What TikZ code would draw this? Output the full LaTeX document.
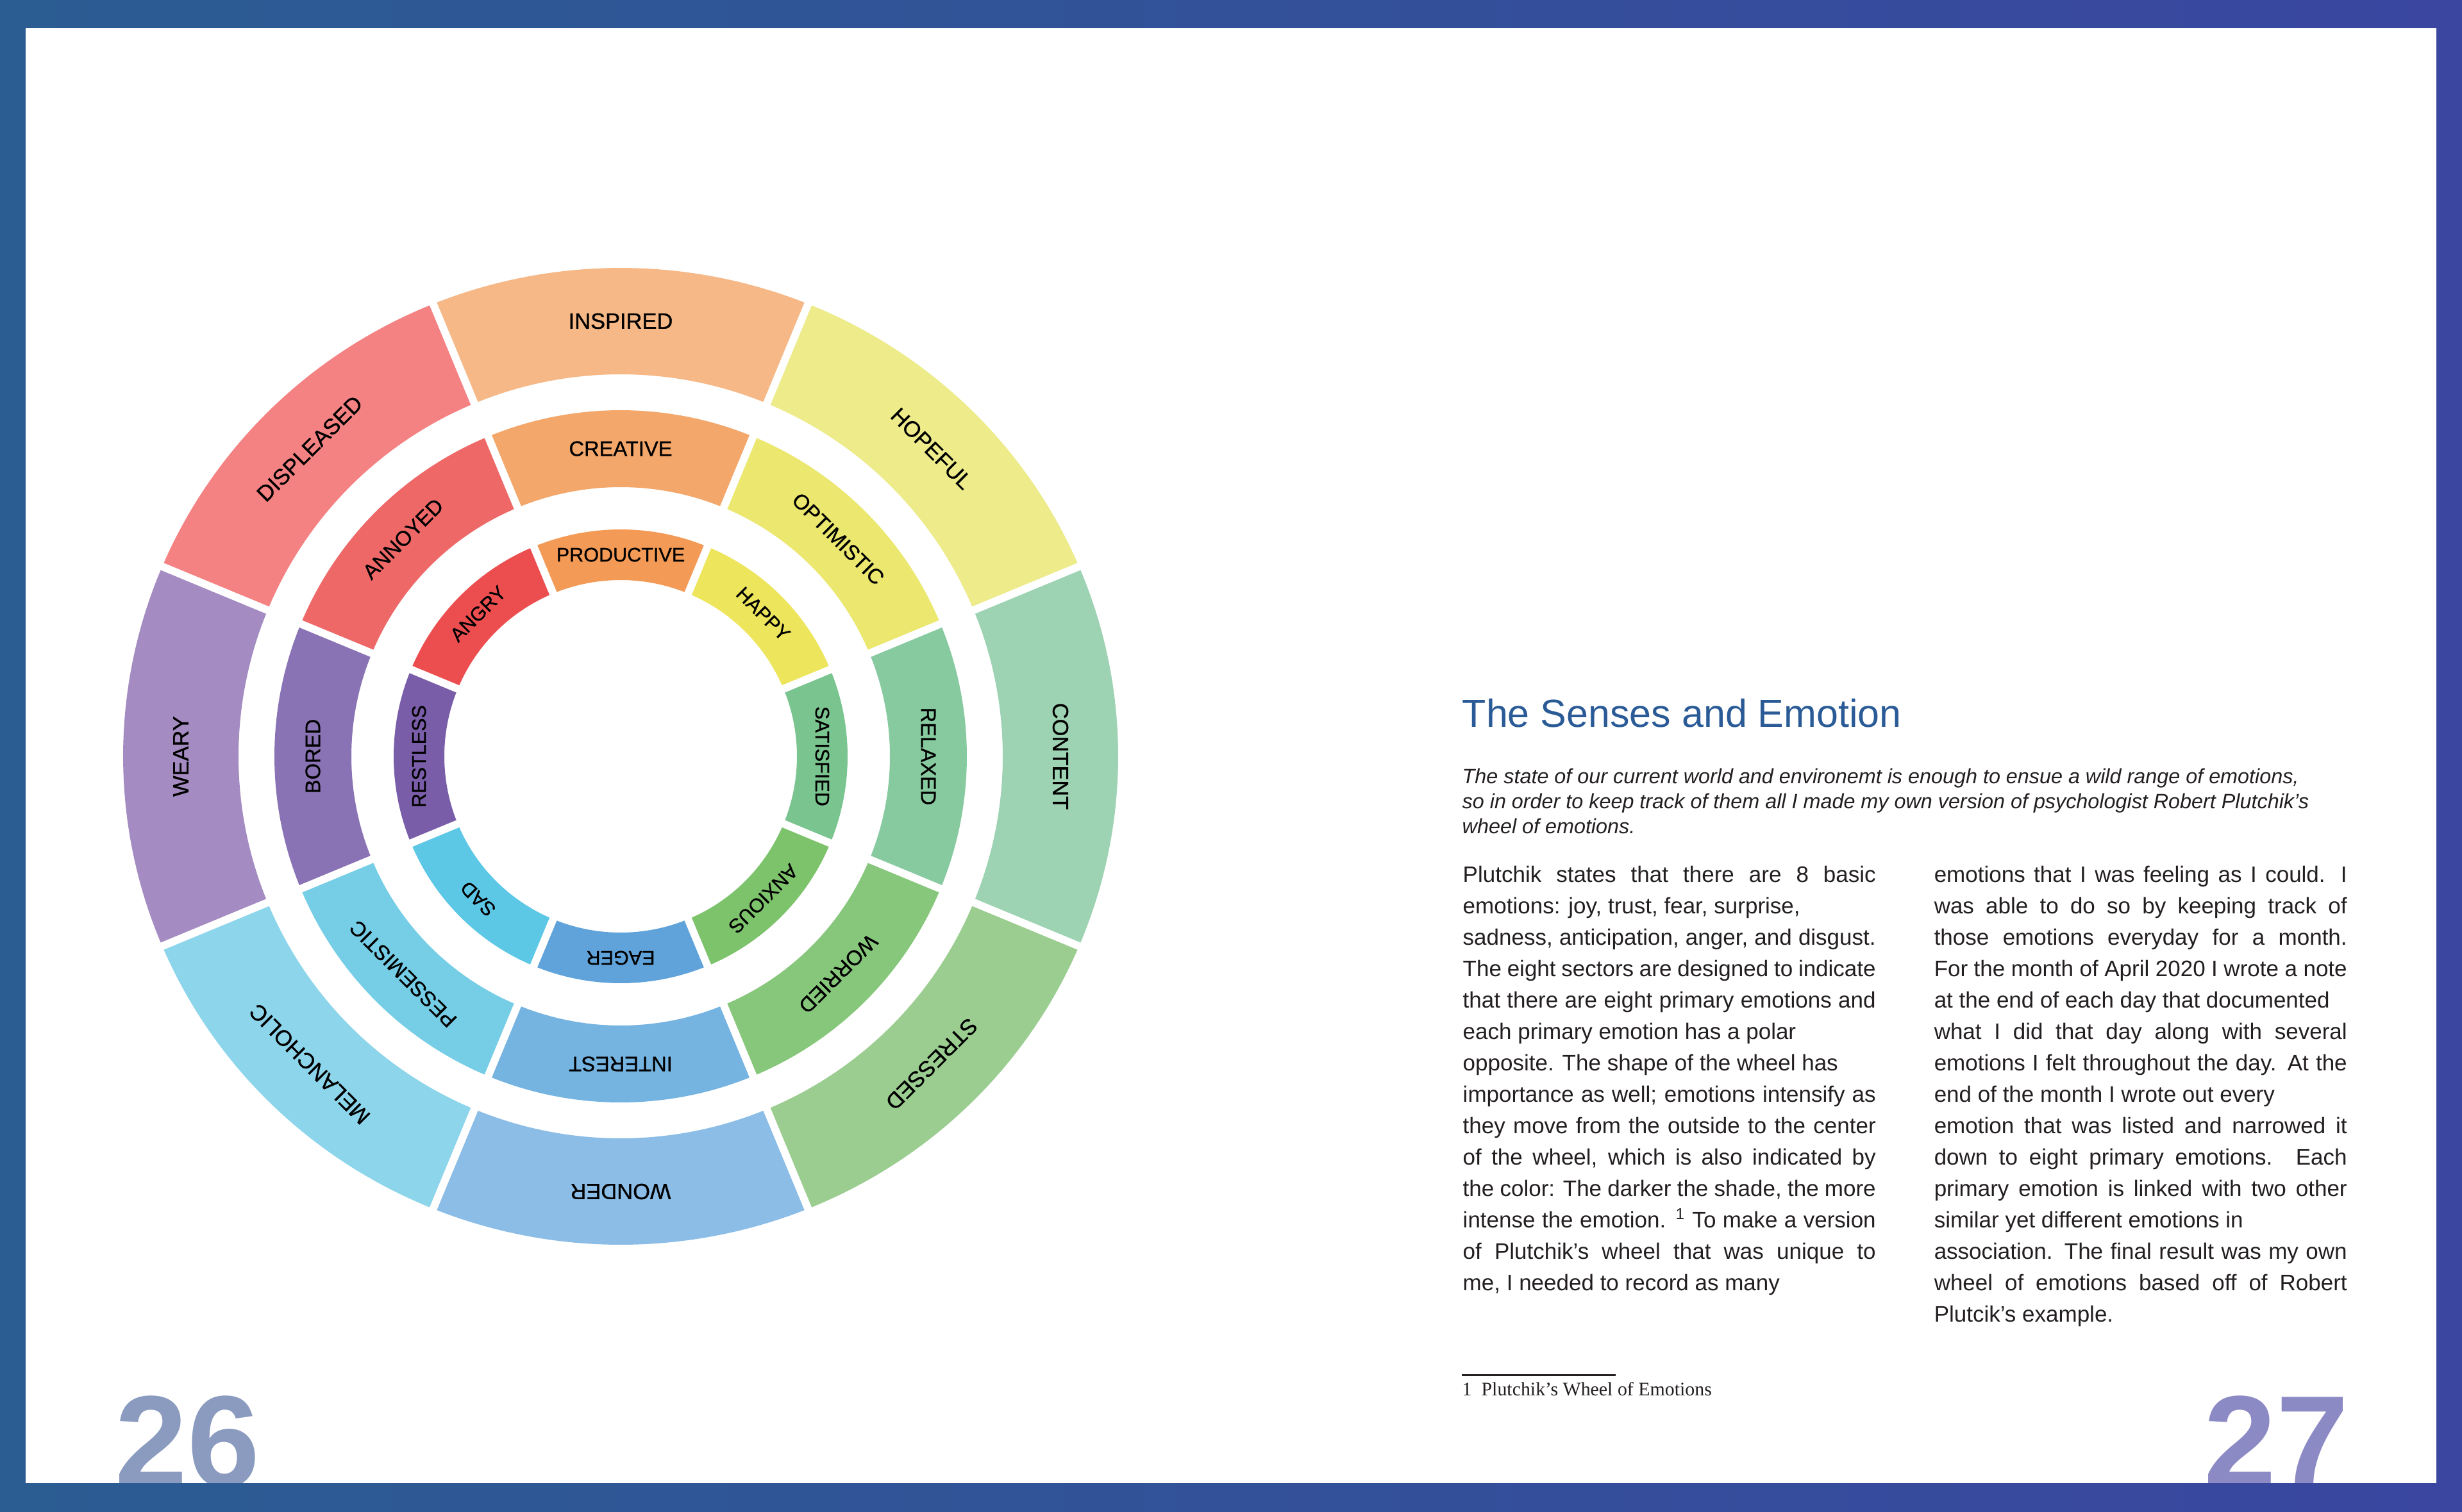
\documentclass[tikz,border=0pt]{standalone}
\usepackage{fontspec}
\setmainfont{Liberation Sans}
\newfontfamily\wheelfont[FakeBold=0.8]{Liberation Sans}
\newfontfamily\notefont{Liberation Serif}
\definecolor{bordL}{HTML}{2B5C92}
\definecolor{bordR}{HTML}{3A46A0}
\definecolor{titleblue}{HTML}{2A5B96}
\definecolor{txt}{HTML}{231F20}
\definecolor{pnA}{HTML}{8A9BBF}
\definecolor{pnB}{HTML}{8C8AC4}
% outer ring
\definecolor{insp}{HTML}{F5B886}\definecolor{hope}{HTML}{EDEB8A}
\definecolor{cont}{HTML}{9DD3B3}\definecolor{stre}{HTML}{9ACD8F}
\definecolor{wond}{HTML}{8BBDE7}\definecolor{mela}{HTML}{8DD5EB}
\definecolor{wear}{HTML}{A48BC1}\definecolor{disp}{HTML}{F48283}
% middle ring
\definecolor{crea}{HTML}{F3A76B}\definecolor{opti}{HTML}{EBE76F}
\definecolor{rela}{HTML}{88CAA0}\definecolor{worr}{HTML}{87C77B}
\definecolor{inte}{HTML}{75B3E1}\definecolor{pess}{HTML}{75CDE6}
\definecolor{bore}{HTML}{8A73B4}\definecolor{anno}{HTML}{EE6868}
% inner ring
\definecolor{prod}{HTML}{F39A56}\definecolor{happ}{HTML}{EDE55B}
\definecolor{sati}{HTML}{7AC48F}\definecolor{anxi}{HTML}{7DC36B}
\definecolor{eage}{HTML}{60A3DA}\definecolor{sadc}{HTML}{5DC7E6}
\definecolor{rest}{HTML}{7A5DA8}\definecolor{angr}{HTML}{EC4E50}
\newcommand\jline[1]{\makebox[6.44cm][s]{#1}}
\tikzset{
  seglabel/.style={font=\wheelfont\fontsize{#1}{#1}\selectfont, text=black, inner sep=0pt},
  body/.style={font=\fontsize{9.96pt}{12pt}\selectfont, text=txt, anchor=base west, inner sep=0pt},
  intro/.style={font=\itshape\fontsize{9.2pt}{11pt}\selectfont, text=txt, anchor=base west, inner sep=0pt},
  pagenum/.style={font=\bfseries\fontsize{57.76pt}{60pt}\selectfont, anchor=base west, inner sep=0pt},
}
\begin{document}
\begin{tikzpicture}
\useasboundingbox (0,0) rectangle (38.40,-23.59);
% frame
\shade[left color=bordL, right color=bordR] (0,0) rectangle (38.40,-23.59);
\fill[white] (0.40,-0.44) rectangle (38.00,-23.14);

% wheel
\begin{scope}[shift={(9.68,-11.80)}]
\foreach \ang/\col/\lab [count=\i] in {90/insp/INSPIRED,45/hope/HOPEFUL,0/cont/CONTENT,-45/stre/STRESSED,-90/wond/WONDER,-135/mela/MELANCHOLIC,180/wear/WEARY,135/disp/DISPLEASED}{
  \fill[\col] ({\ang-22.5}:5.96) arc[start angle={\ang-22.5}, end angle={\ang+22.5}, radius=5.96] -- ({\ang+22.5}:{7.76 and 7.62}) arc[start angle={\ang+22.5}, end angle={\ang-22.5}, x radius=7.76, y radius=7.62] -- cycle;
  \node[seglabel=9.8pt, rotate={\ang-90}] (o\i) at (\ang:{6.86 and 6.79}) {\lab};
}
\foreach \ang/\col/\lab [count=\i] in {90/crea/CREATIVE,45/opti/OPTIMISTIC,0/rela/RELAXED,-45/worr/WORRIED,-90/inte/INTEREST,-135/pess/PESSEMISTIC,180/bore/BORED,135/anno/ANNOYED}{
  \fill[\col] ({\ang-22.5}:4.20) arc[start angle={\ang-22.5}, end angle={\ang+22.5}, radius=4.20] -- ({\ang+22.5}:5.40) arc[start angle={\ang+22.5}, end angle={\ang-22.5}, radius=5.40] -- cycle;
  \node[seglabel=9.3pt, rotate={\ang-90}] (m\i) at (\ang:4.80) {\lab};
}
\foreach \ang/\col/\lab [count=\i] in {90/prod/PRODUCTIVE,45/happ/HAPPY,0/sati/SATISFIED,-45/anxi/ANXIOUS,-90/eage/EAGER,-135/sadc/SAD,180/rest/RESTLESS,135/angr/ANGRY}{
  \fill[\col] ({\ang-22.5}:2.75) arc[start angle={\ang-22.5}, end angle={\ang+22.5}, radius=2.75] -- ({\ang+22.5}:3.54) arc[start angle={\ang+22.5}, end angle={\ang-22.5}, radius=3.54] -- cycle;
  \node[seglabel=8.7pt, rotate={\ang-90}] (n\i) at (\ang:3.145) {\lab};
}
\foreach \a in {22.5,67.5,...,337.5}
  \draw[white, line width=0.12cm] (\a:2.5) -- (\a:7.9);
\end{scope}

% title and intro
\node[anchor=base west, inner sep=0pt, text=titleblue, font=\fontsize{17.36pt}{20pt}\selectfont] (title) at (22.80,-11.34) {The Senses and Emotion};
\node[intro] (i1) at (22.80,-12.22) {The state of our current world and environemt is enough to ensue a wild range of emotions,};
\node[intro] (i2) at (22.80,-12.61) {so in order to keep track of them all I made my own version of psychologist Robert Plutchik’s};
\node[intro] (i3) at (22.80,-13.00) {wheel of emotions.};

% left column
\node[body] (a1) at (22.81,-13.76) {\jline{Plutchik states that there are 8 basic}};
\node[body] (a2) at (22.81,-14.25) {emotions: joy, trust, fear, surprise,};
\node[body] (a3) at (22.81,-14.74) {\jline{sadness, anticipation, anger, and disgust.}};
\node[body] (a4) at (22.81,-15.23) {\jline{The eight sectors are designed to indicate}};
\node[body] (a5) at (22.81,-15.72) {\jline{that there are eight primary emotions and}};
\node[body] (a6) at (22.81,-16.21) {each primary emotion has a polar};
\node[body] (a7) at (22.81,-16.70) {opposite. The shape of the wheel has};
\node[body] (a8) at (22.81,-17.19) {\jline{importance as well; emotions intensify as}};
\node[body] (a9) at (22.81,-17.68) {\jline{they move from the outside to the center}};
\node[body] (a10) at (22.81,-18.17) {\jline{of the wheel, which is also indicated by}};
\node[body] (a11) at (22.81,-18.66) {\jline{the color: The darker the shade, the more}};
\node[body] (a12) at (22.81,-19.15) {\jline{intense the emotion. \textsuperscript{1} To make a version}};
\node[body] (a13) at (22.81,-19.64) {\jline{of Plutchik’s wheel that was unique to}};
\node[body] (a14) at (22.81,-20.13) {me, I needed to record as many};

% right column
\node[body] (b1) at (30.16,-13.76) {\jline{emotions that I was feeling as I could. I}};
\node[body] (b2) at (30.16,-14.25) {\jline{was able to do so by keeping track of}};
\node[body] (b3) at (30.16,-14.74) {\jline{those emotions everyday for a month.}};
\node[body] (b4) at (30.16,-15.23) {\jline{For the month of April 2020 I wrote a note}};
\node[body] (b5) at (30.16,-15.72) {at the end of each day that documented};
\node[body] (b6) at (30.16,-16.21) {\jline{what I did that day along with several}};
\node[body] (b7) at (30.16,-16.70) {\jline{emotions I felt throughout the day. At the}};
\node[body] (b8) at (30.16,-17.19) {end of the month I wrote out every};
\node[body] (b9) at (30.16,-17.68) {\jline{emotion that was listed and narrowed it}};
\node[body] (b10) at (30.16,-18.17) {\jline{down to eight primary emotions. Each}};
\node[body] (b11) at (30.16,-18.66) {\jline{primary emotion is linked with two other}};
\node[body] (b12) at (30.16,-19.15) {similar yet different emotions in};
\node[body] (b13) at (30.16,-19.64) {\jline{association. The final result was my own}};
\node[body] (b14) at (30.16,-20.13) {\jline{wheel of emotions based off of Robert}};
\node[body] (b15) at (30.16,-20.62) {Plutcik’s example.};

% footnote
\coordinate (fnA) at (22.80,-21.45);
\coordinate (fnB) at (25.20,-21.45);
\draw[txt, line width=0.03cm] (fnA) -- (fnB);
\node[anchor=base west, inner sep=0pt, text=txt, font=\notefont\fontsize{8.5pt}{10pt}\selectfont] (fn) at (22.80,-21.77) {1\enspace Plutchik’s Wheel of Emotions};

% page numbers
\node[pagenum, text=pnA] (p26) at (1.79,-23.19) {26};
\node[pagenum, text=pnB] (p27) at (34.37,-23.19) {27};
\shade[left color=bordL, right color=bordR] (0,-23.14) rectangle (38.40,-23.59);
\end{tikzpicture}
\end{document}
